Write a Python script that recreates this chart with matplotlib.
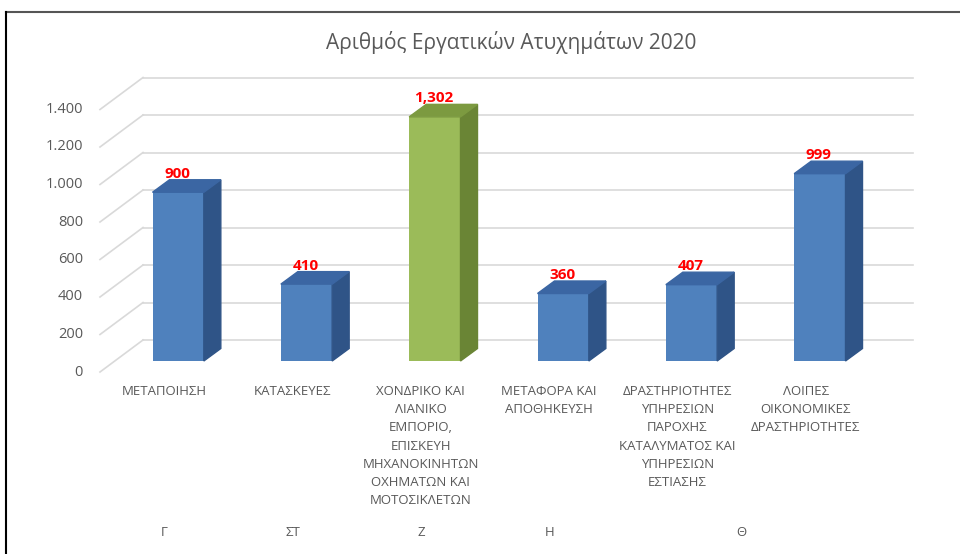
import matplotlib.pyplot as plt
from matplotlib.patches import Polygon
from matplotlib.lines import Line2D

plt.rcParams['font.family'] = ['Open Sans', 'DejaVu Sans']

# data
titlos = 'Αριθμός Εργατικών Ατυχημάτων 2020'
kladoi = ['ΜΕΤΑΠΟΙΗΣΗ', 'ΚΑΤΑΣΚΕΥΕΣ',
          'ΧΟΝΔΡΙΚΟ ΚΑΙ\nΛΙΑΝΙΚΟ\nΕΜΠΟΡΙΟ,\nΕΠΙΣΚΕΥΗ\nΜΗΧΑΝΟΚΙΝΗΤΩΝ\nΟΧΗΜΑΤΩΝ ΚΑΙ\nΜΟΤΟΣΙΚΛΕΤΩΝ',
          'ΜΕΤΑΦΟΡΑ ΚΑΙ\nΑΠΟΘΗΚΕΥΣΗ',
          'ΔΡΑΣΤΗΡΙΟΤΗΤΕΣ\nΥΠΗΡΕΣΙΩΝ\nΠΑΡΟΧΗΣ\nΚΑΤΑΛΥΜΑΤΟΣ ΚΑΙ\nΥΠΗΡΕΣΙΩΝ\nΕΣΤΙΑΣΗΣ',
          'ΛΟΙΠΕΣ\nΟΙΚΟΝΟΜΙΚΕΣ\nΔΡΑΣΤΗΡΙΟΤΗΤΕΣ']
atyximata = [900, 410, 1302, 360, 407, 999]
omades = ['Γ', 'ΣΤ', 'Ζ', 'Η', 'Θ']
omades_pos = [[0], [1], [2], [3], [4, 5]]
yticks = [0, 200, 400, 600, 800, 1000, 1200, 1400]

blue = ('#4F81BD', '#2F5487', '#3B66A3')
green = ('#9BBB59', '#6A8535', '#7C9A40')
xromata = [blue, blue, green, blue, blue, blue]

W, H = 960, 554
fig = plt.figure(figsize=(W / 100, H / 100), dpi=100)
# front plane: x from 100 to 870 px, value 0 at 372 px from top, 0.1875 px per unit
ax = fig.add_axes([100 / W, 182 / H, 770 / W, 300 / H])
ax.set_xlim(-0.5, 5.5)
ax.set_ylim(0, 1600)
ax.axis('off')

pxx = 770 / 6      # pixels per category
pxy = 300 / 1600   # pixels per unit


def off(dx, dy):
    return dx / pxx, dy / pxy


# depth of the back wall and of the bars
bx, by = off(43, 32)
fx, fy = off(14, 11)
dx, dy = off(17, 12.5)
gcol = '#D9D9D9'

for v in yticks:
    ax.add_line(Line2D([-0.5 + bx, 5.5 + bx], [v + by, v + by], color=gcol, lw=1.2, zorder=1, clip_on=False))
    ax.add_line(Line2D([-0.5, -0.5 + bx], [v, v + by], color=gcol, lw=1.2, zorder=1, clip_on=False))
    ax.text(-0.5 - 17 / pxx, v, f'{v:,}'.replace(',', '.'), ha='right', va='center',
            fontsize=10.5, color='#595959')

w = 0.4
for i, v in enumerate(atyximata):
    front, side, top = xromata[i]
    x0 = i - w / 2 + fx
    x1 = i + w / 2 + fx
    ax.bar(i + fx, v, bottom=fy, width=w, color=front, zorder=3)
    ax.add_patch(Polygon([(x1, fy), (x1 + dx, fy + dy), (x1 + dx, fy + v + dy), (x1, fy + v)],
                         closed=True, color=side, zorder=3, clip_on=False))
    ax.add_patch(Polygon([(x0, fy + v), (x0 + dx, fy + v + dy), (x1 + dx, fy + v + dy), (x1, fy + v)],
                         closed=True, color=top, zorder=3, clip_on=False))
    ax.text(i + fx - 1 / pxx, fy + v + dy - 1 / pxy, f'{v:,}', ha='center', va='bottom',
            fontsize=11, fontweight='bold', color='#FF0000', zorder=4, clip_on=False)

for i, lab in enumerate(kladoi):
    ax.text(i, -13 / pxy, lab, ha='center', va='top', fontsize=9.5, color='#595959',
            linespacing=1.52, clip_on=False)

for lab, pos in zip(omades, omades_pos):
    ax.text(sum(pos) / len(pos), -160 / pxy, lab, ha='center', va='center', fontsize=9.5,
            color='#595959', clip_on=False)

fig.text(511 / W, 1 - 42 / H, titlos, ha='center', va='center', fontsize=15, color='#595959')

# outer frame of the chart area
fig.add_artist(Line2D([6 / W, 1], [1 - 12 / H, 1 - 12 / H], color='#555555', lw=1.5, transform=fig.transFigure))
fig.add_artist(Line2D([6 / W, 6 / W], [0, 1 - 12 / H], color='#000000', lw=1.5, transform=fig.transFigure))

plt.savefig('out.png')
